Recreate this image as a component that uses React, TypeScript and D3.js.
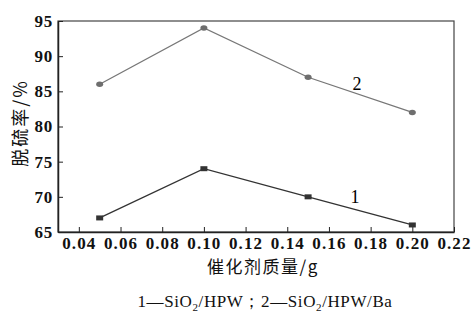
import React, { useRef, useEffect } from "react";
import * as d3 from "d3";

const masses = [0.05, 0.1, 0.15, 0.2];
const series1 = [67, 74, 70, 66]; // SiO2/HPW
const series2 = [86, 94, 87, 82]; // SiO2/HPW/Ba
const xTicks = [0.04, 0.06, 0.08, 0.1, 0.12, 0.14, 0.16, 0.18, 0.2, 0.22];
const yTicks = [65, 70, 75, 80, 85, 90, 95];

export default function App() {
  const svgRef = useRef<SVGSVGElement>(null);

  useEffect(() => {
    const width = 471;
    const height = 324;
    const margin = { top: 21, right: 17, bottom: 92, left: 58 };
    const serif = "'Liberation Serif', 'DejaVu Serif', serif";
    const cjk = "'Noto Sans CJK SC', sans-serif";

    const svg = d3.select(svgRef.current).attr("width", width).attr("height", height);
    svg.selectAll("*").remove();

    const x = d3.scaleLinear().domain([0.03, 0.22]).range([margin.left, width - margin.right]);
    const y = d3.scaleLinear().domain([65, 95]).range([height - margin.bottom, margin.top]);

    // frame
    svg.append("rect")
      .attr("x", margin.left)
      .attr("y", margin.top)
      .attr("width", x(0.22) - margin.left)
      .attr("height", y(65) - margin.top)
      .attr("fill", "none")
      .attr("stroke", "#444")
      .attr("stroke-width", 1.2);

    const xAxis = svg.append("g")
      .attr("transform", `translate(0, ${y(65)})`)
      .call(d3.axisBottom(x).tickValues(xTicks).tickSizeInner(-5).tickSizeOuter(0).tickPadding(5).tickFormat(d3.format(".2f")));
    xAxis.select(".domain").attr("stroke", "#222").attr("stroke-width", 1.5);
    xAxis.selectAll("line").attr("stroke", "#222");
    xAxis.selectAll("text").attr("font-family", serif).attr("font-size", 17).attr("font-weight", "bold")
      .attr("letter-spacing", 1.1).attr("fill", "#111");

    const yAxis = svg.append("g")
      .attr("transform", `translate(${margin.left}, 0)`)
      .call(d3.axisLeft(y).tickValues(yTicks).tickSizeInner(-5).tickSizeOuter(0).tickPadding(5));
    yAxis.select(".domain").attr("stroke", "#222").attr("stroke-width", 1.5);
    yAxis.selectAll("line").attr("stroke", "#222");
    yAxis.selectAll("text").attr("font-family", serif).attr("font-size", 17).attr("font-weight", "bold")
      .attr("letter-spacing", 0.8).attr("fill", "#111");

    const line = d3.line<number>().x((_, i) => x(masses[i])).y(d => y(d));

    svg.append("path").datum(series2).attr("d", line).attr("fill", "none").attr("stroke", "#777").attr("stroke-width", 1.3);
    svg.append("path").datum(series1).attr("d", line).attr("fill", "none").attr("stroke", "#333").attr("stroke-width", 1.3);

    svg.append("g").selectAll("ellipse").data(series2).enter().append("ellipse")
      .attr("cx", (_, i) => x(masses[i]))
      .attr("cy", d => y(d))
      .attr("rx", 3.5)
      .attr("ry", 2.7)
      .attr("fill", "#6e6e6e");

    svg.append("g").selectAll("rect").data(series1).enter().append("rect")
      .attr("x", (_, i) => x(masses[i]) - 3.5)
      .attr("y", d => y(d) - 2.5)
      .attr("width", 7)
      .attr("height", 5)
      .attr("fill", "#333");

    // series numbers
    svg.append("text").attr("x", x(0.1735)).attr("y", y(85.2)).attr("text-anchor", "middle")
      .attr("font-family", serif).attr("font-size", 18).text("2");
    svg.append("text").attr("x", x(0.1725)).attr("y", y(69.1)).attr("text-anchor", "middle")
      .attr("font-family", serif).attr("font-size", 18).text("1");

    // axis titles
    svg.append("text")
      .attr("x", 263)
      .attr("y", 273)
      .attr("text-anchor", "middle")
      .attr("font-family", cjk)
      .attr("font-size", 17)
      .attr("letter-spacing", 1.5)
      .attr("fill", "#111")
      .text("催化剂质量/g");

    svg.append("text")
      .attr("transform", "rotate(-90)")
      .attr("x", -123)
      .attr("y", 27)
      .attr("text-anchor", "middle")
      .attr("font-family", cjk)
      .attr("font-size", 18)
      .attr("letter-spacing", 2)
      .attr("fill", "#111")
      .text("脱硫率/%");

    // legend
    const legend = svg.append("text")
      .attr("x", 265)
      .attr("y", 307)
      .attr("text-anchor", "middle")
      .attr("font-family", serif)
      .attr("font-size", 17)
      .attr("letter-spacing", 0.6)
      .attr("fill", "#111");
    legend.append("tspan").text("1—SiO");
    legend.append("tspan").attr("font-size", 11).attr("dy", 4).text("2");
    legend.append("tspan").attr("dy", -4).text("/HPW；2—SiO");
    legend.append("tspan").attr("font-size", 11).attr("dy", 4).text("2");
    legend.append("tspan").attr("dy", -4).text("/HPW/Ba");
  }, []);

  return (
    <div style={{ position: "absolute", left: 0, top: 0 }}>
      <svg ref={svgRef}></svg>
    </div>
  );
}
